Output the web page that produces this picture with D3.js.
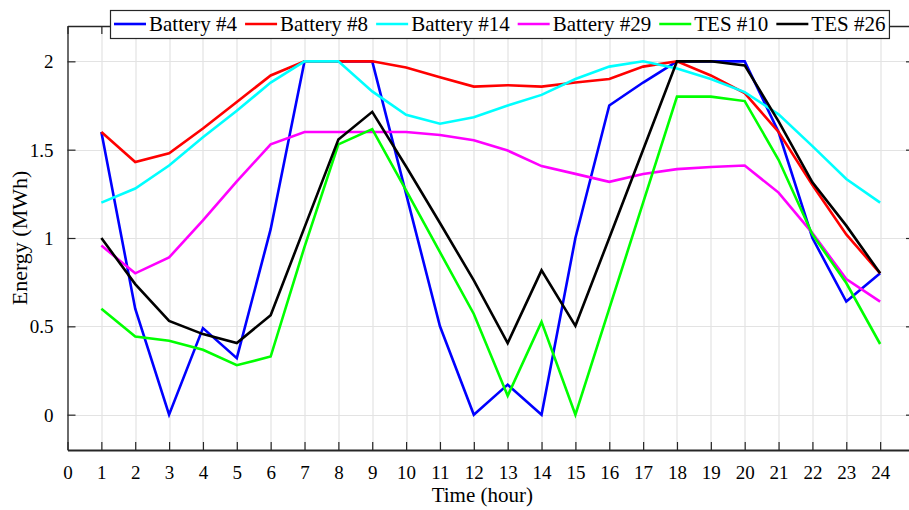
<!DOCTYPE html>
<html>
<head>
<meta charset="utf-8">
<script src="https://cdn.jsdelivr.net/npm/d3@7"></script>
<style>
  body { margin: 0; background: #fff; }
  svg { display: block; overflow: hidden; }
  text { font-family: "Liberation Serif", "Times New Roman", serif; fill: #000; }
</style>
</head>
<body>
<div id="chart"></div>
<script>
const hours = [1, 2, 3, 4, 5, 6, 7, 8, 9, 10, 11, 12, 13, 14, 15, 16, 17, 18, 19, 20, 21, 22, 23, 24];
const xTicks = [0, 1, 2, 3, 4, 5, 6, 7, 8, 9, 10, 11, 12, 13, 14, 15, 16, 17, 18, 19, 20, 21, 22, 23, 24, 25];
const yTicks = [0, 0.5, 1, 1.5, 2];

const battery4 = [1.6, 0.6, 0, 0.49, 0.32, 1.05, 2, 2, 2, 1.25, 0.5, 0, 0.17, 0, 1.0, 1.75, 1.88, 2.0, 2.0, 2.0, 1.6, 1.0, 0.64, 0.8];
const battery8 = [1.6, 1.43, 1.48, 1.62, 1.77, 1.92, 2.0, 2.0, 2.0, 1.965, 1.91, 1.857, 1.865, 1.857, 1.88, 1.9, 1.97, 2.0, 1.92, 1.82, 1.6, 1.3, 1.02, 0.8];
const battery14 = [1.2, 1.28, 1.41, 1.57, 1.72, 1.88, 2.0, 2.0, 1.83, 1.697, 1.647, 1.683, 1.75, 1.81, 1.9, 1.97, 2.0, 1.96, 1.9, 1.826, 1.7, 1.52, 1.334, 1.2];
const battery29 = [0.957, 0.8, 0.89, 1.1, 1.32, 1.53, 1.6, 1.6, 1.6, 1.6, 1.583, 1.553, 1.495, 1.407, 1.363, 1.318, 1.362, 1.39, 1.402, 1.41, 1.257, 1.028, 0.768, 0.64];
const tes10 = [0.6, 0.442, 0.418, 0.367, 0.28, 0.329, 0.95, 1.53, 1.616, 1.27, 0.92, 0.57, 0.107, 0.525, 0, 0.6, 1.2, 1.8, 1.8, 1.775, 1.443, 1.02, 0.745, 0.4];
const tes26 = [1.0, 0.739, 0.531, 0.456, 0.405, 0.563, 1.06, 1.558, 1.714, 1.405, 1.085, 0.76, 0.405, 0.817, 0.503, 1.0, 1.5, 2.0, 2.0, 1.977, 1.66, 1.315, 1.07, 0.8];

const seriesNames = ["Battery #4", "Battery #8", "Battery #14", "Battery #29", "TES #10", "TES #26"];
const seriesValues = [battery4, battery8, battery14, battery29, tes10, tes26];
const colors = ["#0000ff", "#ff0000", "#00ffff", "#ff00ff", "#00ff00", "#000000"];

const W = 909, H = 510;
const margin = { top: 26, right: -5, bottom: 60, left: 67.5 };
const width = W - margin.left - margin.right;
const height = H - margin.top - margin.bottom;

const svg = d3.select("#chart").append("svg")
  .attr("width", W)
  .attr("height", H);

const g = svg.append("g")
  .attr("transform", "translate(" + margin.left + "," + margin.top + ")");

const x = d3.scaleLinear().domain([0, 25]).range([0, width]);
const y = d3.scaleLinear().domain([-0.2, 2.2]).range([height, 0]);

// grid
g.append("g")
  .selectAll("line")
  .data(xTicks)
  .join("line")
  .attr("x1", d => Math.round(x(d)) + 0.5)
  .attr("x2", d => Math.round(x(d)) + 0.5)
  .attr("y1", 0)
  .attr("y2", height)
  .attr("stroke", "#e3e3e3")
  .attr("stroke-width", 1.2);

g.append("g")
  .selectAll("line")
  .data(yTicks)
  .join("line")
  .attr("x1", 0)
  .attr("x2", width)
  .attr("y1", d => Math.round(y(d)) + 0.5)
  .attr("y2", d => Math.round(y(d)) + 0.5)
  .attr("stroke", "#e3e3e3")
  .attr("stroke-width", 1.2);

// axes, ticks point inward
const tickLen = 8;
const axisColor = "#262626";

const xBottom = g.append("g")
  .attr("transform", "translate(0," + height + ")")
  .call(d3.axisBottom(x).tickValues(xTicks.slice(0, 25)).tickSizeInner(-tickLen).tickSizeOuter(0).tickPadding(16).tickFormat(d3.format("d")));
const xTop = g.append("g")
  .call(d3.axisTop(x).tickValues(xTicks.slice(0, 25)).tickSizeInner(-tickLen).tickSizeOuter(0).tickFormat(""));
const yLeft = g.append("g")
  .call(d3.axisLeft(y).tickValues(yTicks).tickSizeInner(-tickLen).tickSizeOuter(0).tickPadding(14).tickFormat(d3.format("")));
const yRight = g.append("g")
  .attr("transform", "translate(" + width + ",0)")
  .call(d3.axisRight(y).tickValues(yTicks).tickSizeInner(-tickLen).tickSizeOuter(0).tickFormat(""));

[xBottom, xTop, yLeft, yRight].forEach(a => {
  a.select(".domain").attr("stroke", axisColor).attr("stroke-width", 1.3);
  a.selectAll(".tick line").attr("stroke", axisColor).attr("stroke-width", 1.2);
  a.selectAll("text").attr("font-family", "Liberation Serif, serif").attr("font-size", 19).attr("fill", "#000");
});
xBottom.select(".domain").attr("stroke-width", 1.8);
yLeft.selectAll(".tick text").attr("dy", "0.35em");

// lines
const line = d3.line()
  .x((d, i) => x(hours[i]))
  .y(d => y(d));

g.append("g")
  .selectAll("path")
  .data(seriesValues)
  .join("path")
  .attr("fill", "none")
  .attr("stroke", (d, i) => colors[i])
  .attr("stroke-width", 2.6)
  .attr("stroke-linejoin", "miter")
  .attr("d", line);

// axis labels
svg.append("text")
  .attr("x", margin.left + x(12.25))
  .attr("y", 502)
  .attr("text-anchor", "middle")
  .attr("font-size", 21)
  .text("Time (hour)");

svg.append("text")
  .attr("transform", "translate(27," + (margin.top + height / 2) + ") rotate(-90)")
  .attr("text-anchor", "middle")
  .attr("font-size", 22)
  .text("Energy (MWh)");

// legend
const legend = svg.append("g");
const legendBox = legend.append("rect")
  .attr("fill", "#fff")
  .attr("stroke", axisColor)
  .attr("stroke-width", 1.2);

let lx = 114;
const ly = 24;
seriesNames.forEach((name, i) => {
  legend.append("line")
    .attr("x1", lx).attr("x2", lx + 32)
    .attr("y1", ly).attr("y2", ly)
    .attr("stroke", colors[i])
    .attr("stroke-width", 2.6);
  const t = legend.append("text")
    .attr("x", lx + 35)
    .attr("y", ly + 7)
    .attr("font-size", 21)
    .text(name);
  lx += 35 + t.node().getComputedTextLength() + 8;
});
legendBox
  .attr("x", 110.5)
  .attr("y", 10.5)
  .attr("width", lx - 4 - 110.5)
  .attr("height", 28);
</script>
</body>
</html>
